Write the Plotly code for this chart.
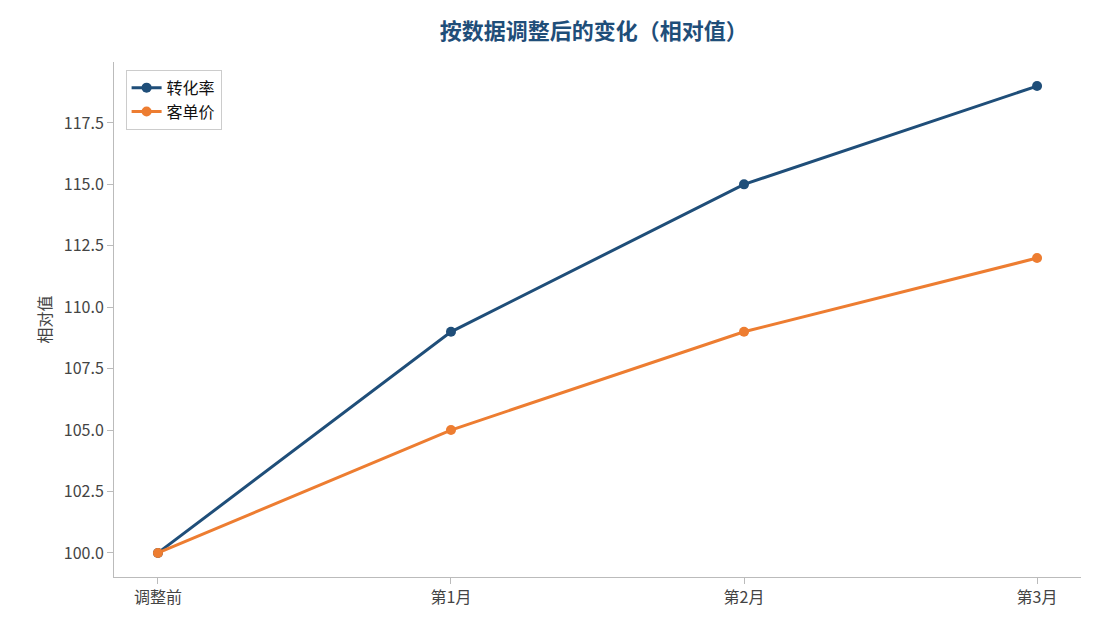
import plotly.graph_objects as go

categories = ["调整前", "第1月", "第2月", "第3月"]
conversion = [100, 109, 115, 119]
aov = [100, 105, 109, 112]

font = "Noto Sans CJK SC"
fig = go.Figure()
fig.add_trace(go.Scatter(x=categories, y=conversion, name="转化率", mode="lines+markers",
                         line=dict(color="#1f4e79", width=3), marker=dict(size=10)))
fig.add_trace(go.Scatter(x=categories, y=aov, name="客单价", mode="lines+markers",
                         line=dict(color="#ed7d31", width=3), marker=dict(size=10)))
fig.update_layout(
    width=1095, height=630, plot_bgcolor="white", paper_bgcolor="white",
    margin=dict(l=106, r=22, t=54, b=61),
    font=dict(family=font, size=16, color="#444"),
    title=dict(text="<b>按数据调整后的变化（相对值）</b>", x=0.535, xanchor="center", y=0.975,
               font=dict(size=22, color="#1f4e79", family=font)),
    legend=dict(x=0.012, y=0.985, xanchor="left", yanchor="top", bgcolor="white",
                bordercolor="#ccc", borderwidth=1, font=dict(size=16, color="#111")),
    xaxis=dict(range=[-0.15, 3.15], showline=True, linecolor="#bbb", ticks="outside",
               tickcolor="#bbb", ticklen=6, showgrid=False),
    yaxis=dict(range=[99.02, 119.98], dtick=2.5, tickformat=".1f", showline=True, linecolor="#bbb",
               ticks="outside", tickcolor="#bbb", ticklen=6, showgrid=False, zeroline=False,
               title=dict(text="相对值", font=dict(size=16, color="#444"), standoff=8)),
)
fig.write_html("out.html")
